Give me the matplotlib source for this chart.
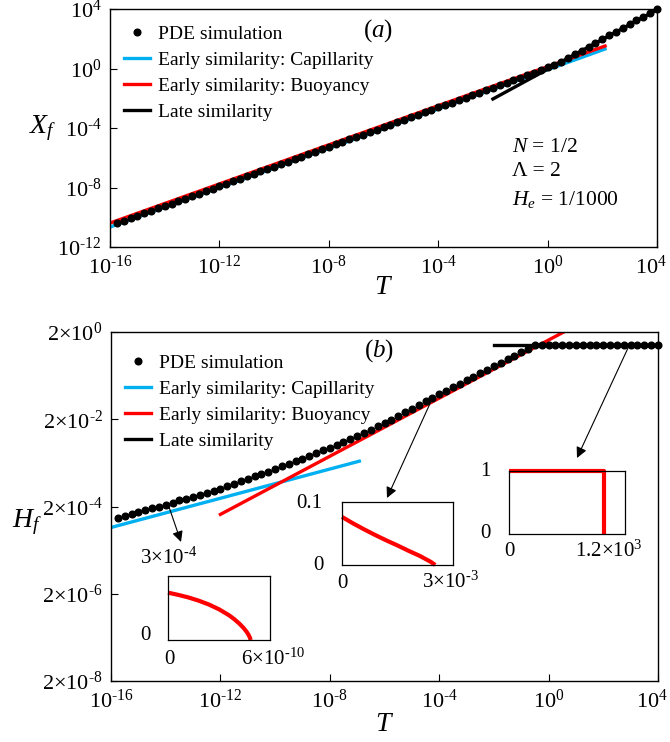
import numpy as np
import matplotlib
matplotlib.use('Agg')
import matplotlib.pyplot as plt
import matplotlib.transforms as mtransforms

plt.rcParams['font.family'] = ['Liberation Serif', 'DejaVu Serif']
plt.rcParams['mathtext.fontset'] = 'custom'
plt.rcParams['mathtext.rm'] = 'Liberation Serif'
plt.rcParams['mathtext.it'] = 'Liberation Serif:italic'

W, H = 670, 742

# PDE sample times (log10 T)
logT = [-15.75, -15.5, -15.25, -15.0, -14.75, -14.5, -14.25, -14.0, -13.75, -13.5,
        -13.25, -13.0, -12.75, -12.5, -12.25, -12.0, -11.75, -11.5, -11.25, -11.0,
        -10.75, -10.5, -10.25, -10.0, -9.75, -9.5, -9.25, -9.0, -8.75, -8.5,
        -8.25, -8.0, -7.75, -7.5, -7.25, -7.0, -6.75, -6.5, -6.25, -6.0,
        -5.75, -5.5, -5.25, -5.0, -4.75, -4.5, -4.25, -4.0, -3.75, -3.5,
        -3.25, -3.0, -2.75, -2.5, -2.25, -2.0, -1.75, -1.5, -1.25, -1.0,
        -0.75, -0.5, -0.25, 0.0, 0.25, 0.5, 0.75, 1.0, 1.25, 1.5,
        1.75, 2.0, 2.25, 2.5, 2.75, 3.0, 3.25, 3.5, 3.75, 4.0]

# (a) front position, log10 Xf
logXf = [-10.40, -10.23, -10.07, -9.90, -9.74, -9.57, -9.41, -9.24, -9.08, -8.91,
         -8.75, -8.58, -8.41, -8.25, -8.08, -7.92, -7.75, -7.59, -7.42, -7.26,
         -7.09, -6.92, -6.76, -6.59, -6.43, -6.26, -6.10, -5.93, -5.77, -5.60,
         -5.44, -5.27, -5.10, -4.94, -4.77, -4.61, -4.44, -4.28, -4.11, -3.95,
         -3.78, -3.62, -3.45, -3.28, -3.12, -2.95, -2.79, -2.62, -2.46, -2.29,
         -2.13, -1.96, -1.78, -1.62, -1.45, -1.28, -1.12, -0.96, -0.79, -0.62,
         -0.45, -0.28, -0.11, 0.07, 0.26, 0.47, 0.71, 0.95, 1.20, 1.45,
         1.71, 1.96, 2.22, 2.47, 2.73, 2.98, 3.24, 3.49, 3.74, 3.99]

# (b) front height, log10 Hf
logHf = [-3.96, -3.92, -3.87, -3.83, -3.79, -3.74, -3.70, -3.66, -3.61, -3.56,
         -3.52, -3.47, -3.43, -3.38, -3.34, -3.29, -3.23, -3.18, -3.12, -3.07,
         -3.01, -2.95, -2.90, -2.84, -2.78, -2.72, -2.66, -2.60, -2.53, -2.47,
         -2.41, -2.35, -2.28, -2.21, -2.15, -2.08, -2.01, -1.94, -1.86, -1.79,
         -1.71, -1.62, -1.54, -1.46, -1.38, -1.29, -1.21, -1.13, -1.05, -0.97,
         -0.89, -0.81, -0.72, -0.64, -0.56, -0.48, -0.40, -0.32, -0.24, -0.16,
         -0.08, 0.00, 0.00, 0.00, 0.00, 0.00, 0.00, 0.00, 0.00, 0.00,
         0.00, 0.00, 0.00, 0.00, 0.00, 0.00, 0.00, 0.00, 0.00, 0.00]

# similarity solutions: endpoints (log10 T, log10 value)
capA_T, capA_X = [-16.0, 2.1], [-10.66, 1.31]
buoA_T, buoA_X = [-16.0, 2.1], [-10.39, 1.51]
lateA_T, lateA_X = [-2.0, 4.0], [-2.05, 3.95]

capB_T, capB_H = [-16.0, -6.92], [-4.18, -2.66]
buoB_T, buoB_H = [-12.0, 1.0], [-3.88, 0.45]
lateB_T, lateB_H = [-2.0, 4.0], [0.0, 0.0]

# inset profiles
in1_x = [0, 0.6e-10, 1.2e-10, 1.8e-10, 2.4e-10, 3.0e-10, 3.6e-10, 3.9e-10, 4.2e-10,
         4.44e-10, 4.62e-10, 4.74e-10, 4.83e-10, 4.86e-10]
in1_h = [2.22e-4, 2.115e-4, 1.995e-4, 1.845e-4, 1.665e-4, 1.44e-4, 1.155e-4, 0.975e-4,
         0.765e-4, 0.57e-4, 0.39e-4, 0.24e-4, 0.09e-4, 0]
in2_x = [0, 0.3e-3, 0.6e-3, 0.9e-3, 1.2e-3, 1.5e-3, 1.8e-3, 2.1e-3, 2.4e-3, 2.52e-3]
in2_h = [0.0763, 0.066, 0.0565, 0.0475, 0.039, 0.031, 0.0225, 0.0145, 0.005, 0]
in3_x = [0, 1.2e3, 1.2e3]
in3_h = [1, 1, 0]

xticks = [-16, -12, -8, -4, 0, 4]
yticksA = [-12, -8, -4, 0, 4]
yticksB = [-8, -6, -4, -2, 0]

CYAN = '#00b0f0'
RED = '#ff0000'
FS = 14
TFS = 16


def rect(x0, y0, x1, y1):
    return [x0 / W, 1 - y1 / H, (x1 - x0) / W, (y1 - y0) / H]


def fxy(x, y):
    return (x / W, 1 - y / H)


def sup(k):
    # superscript exponent with a plain hyphen as minus
    if k < 0:
        return '$^{\\text{-}%d}$' % (-k)
    return '$^{%d}$' % k


def style(ax):
    ax.set_xscale('log')
    ax.set_yscale('log')
    ax.tick_params(which='both', direction='in', top=False, right=False, labelsize=TFS)
    ax.tick_params(which='major', length=5, width=0.8, pad=6)
    for s in ax.spines.values():
        s.set_linewidth(1.0)
    ax.set_xlim(1e-16, 1e4)
    ax.set_xticks([10.0 ** k for k in xticks])
    ax.set_xticklabels(['10' + sup(k) for k in xticks])
    ax.minorticks_off()
    # keep the last x label inside the picture
    lab = ax.get_xticklabels()[-1]
    lab.set_transform(lab.get_transform() + mtransforms.ScaledTranslation(-6 / 100, 0, fig.dpi_scale_trans))


fig = plt.figure(figsize=(W / 100, H / 100), dpi=100)
p = lambda v: [10.0 ** a for a in v]
order = [3, 0, 1, 2]

# ---------------- (a)
axa = fig.add_axes(rect(110, 9, 657, 247))
style(axa)
axa.plot(p(capA_T), p(capA_X), color=CYAN, lw=2.4, label='Early similarity: Capillarity')
axa.plot(p(buoA_T), p(buoA_X), color=RED, lw=2.4, label='Early similarity: Buoyancy')
axa.plot(p(lateA_T), p(lateA_X), color='k', lw=2.4, label='Late similarity')
axa.plot(p(logT), p(logXf), 'o', color='k', ms=4.8, label='PDE simulation', clip_on=False, zorder=5)
axa.set_ylim(1e-12, 1e4)
axa.set_yticks([10.0 ** k for k in yticksA])
axa.set_yticklabels(['10' + sup(k) for k in yticksA])
axa.minorticks_off()
h, l = axa.get_legend_handles_labels()
axa.legend([h[i] for i in order], [l[i] for i in order], loc='upper left', frameon=False,
           fontsize=FS, handlelength=1.35, handletextpad=0.4, labelspacing=0.43,
           numpoints=1, borderaxespad=0.3, bbox_to_anchor=(0.0, 0.99))
axa.set_xlabel('$T$', fontsize=20, va='center')
axa.xaxis.set_label_coords(0.5, -0.172)
axa.set_ylabel('$X_f$', fontsize=20, rotation=0, ha='center', va='center')
axa.yaxis.set_label_coords(-0.122, 0.5)
axa.text(0.49, 0.91, '($a$)', transform=axa.transAxes, fontsize=18, ha='center', va='center')
axa.text(0.735, 0.416, '$N$ = 1/2', transform=axa.transAxes, fontsize=15.5, va='center')
axa.text(0.735, 0.319, 'Λ = 2', transform=axa.transAxes, fontsize=15.5, va='center')
axa.text(0.735, 0.200, '$H_e$ = 1/1000', transform=axa.transAxes, fontsize=15.5, va='center')

# ---------------- (b)
axb = fig.add_axes(rect(111, 332, 658, 681))
style(axb)
axb.plot(p(capB_T), p(capB_H), color=CYAN, lw=2.4, label='Early similarity: Capillarity')
axb.plot(p(buoB_T), p(buoB_H), color=RED, lw=2.4, label='Early similarity: Buoyancy')
axb.plot(p(lateB_T), p(lateB_H), color='k', lw=2.4, label='Late similarity')
axb.plot(p(logT), p(logHf), 'o', color='k', ms=4.8, label='PDE simulation', clip_on=False, zorder=5)
axb.set_ylim(2e-8, 2e0)
axb.set_yticks([2 * 10.0 ** k for k in yticksB])
axb.set_yticklabels(['2×10' + sup(k) for k in yticksB])
axb.minorticks_off()
h, l = axb.get_legend_handles_labels()
axb.legend([h[i] for i in order], [l[i] for i in order], loc='upper left', frameon=False,
           fontsize=FS, handlelength=1.35, handletextpad=0.4, labelspacing=0.43,
           numpoints=1, borderaxespad=0.3, bbox_to_anchor=(0.0, 0.975))
axb.set_xlabel('$T$', fontsize=20, va='center')
axb.xaxis.set_label_coords(0.5, -0.126)
axb.set_ylabel('$H_f$', fontsize=20, rotation=0, ha='center', va='center')
axb.yaxis.set_label_coords(-0.154, 0.455)
axb.text(0.49, 0.948, '($b$)', transform=axb.transAxes, fontsize=18, ha='center', va='center')

# ---------------- insets
def inset(box, xs, hs, xlim, ylim):
    ax = fig.add_axes(rect(*box))
    ax.plot(xs, hs, color=RED, lw=3, clip_on=False, solid_capstyle='butt')
    ax.set_xlim(*xlim)
    ax.set_ylim(*ylim)
    ax.set_xticks([])
    ax.set_yticks([])
    for s in ax.spines.values():
        s.set_linewidth(0.9)
    return ax

inset((168, 576, 270, 640), in1_x, in1_h, (0, 6e-10), (0, 3e-4))
inset((342, 502, 453, 565), in2_x, in2_h, (0, 3e-3), (0, 0.1))
inset((509, 471, 625, 534), in3_x, in3_h, (0, 1.46e3), (0, 1))

labels = [
    (169, 558, '3×10' + sup(-4)), (145, 636, '0'), (169, 660, '0'), (273, 659, '6×10' + sup(-10)),
    (309, 503, '0.1'), (318, 565, '0'), (342, 583, '0'), (450, 582, '3×10' + sup(-3)),
    (485, 472, '1'), (485, 534, '0'), (509, 552, '0'), (609, 551, '1.2×10' + sup(3)),
]
for x, y, s in labels:
    fig.text(*fxy(x, y), s, fontsize=15, ha='center', va='center')

arrows = [((168, 504), (181, 542)), ((433, 397), (387, 498)), ((628, 348), (577, 458))]
for tail, head in arrows:
    fig.add_artist(matplotlib.patches.FancyArrowPatch(
        fxy(*tail), fxy(*head), transform=fig.transFigure, arrowstyle='-|>',
        mutation_scale=16, lw=0.8, color='k', shrinkA=0, shrinkB=0))

fig.savefig('out.png', dpi=100)
